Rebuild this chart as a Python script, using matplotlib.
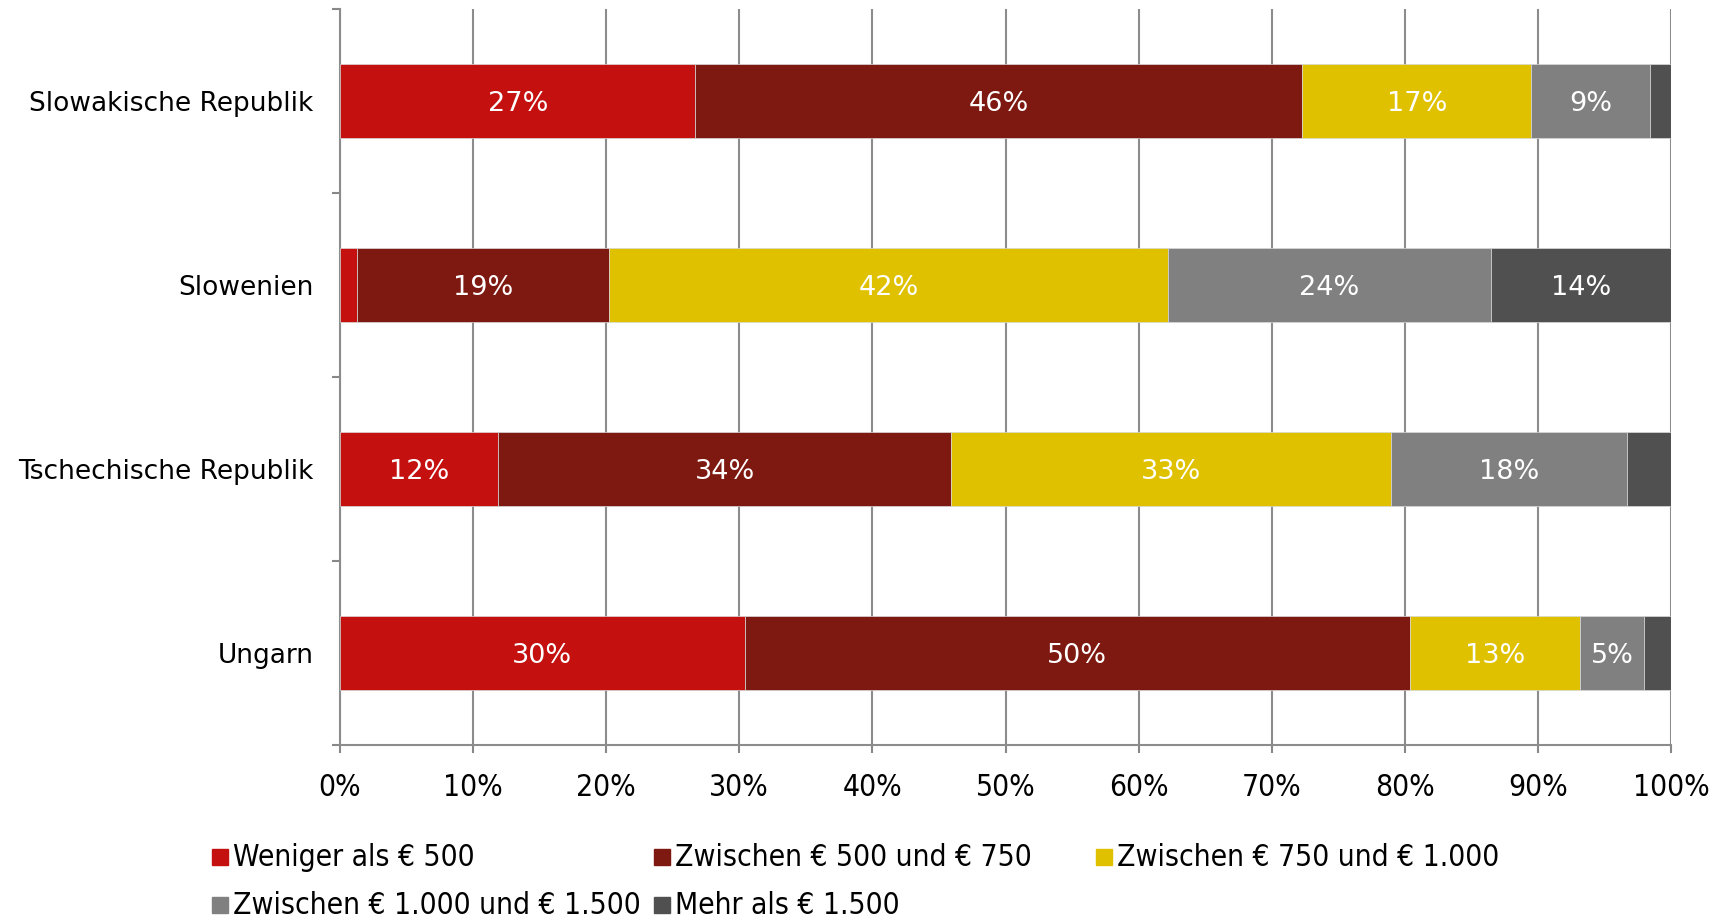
import matplotlib.pyplot as plt
import matplotlib.patches as mpatches
import numpy as np

# data, bottom to top
countries = ['Ungarn', 'Tschechische Republik', 'Slowenien', 'Slowakische Republik']
series = ['Weniger als € 500', 'Zwischen € 500 und € 750', 'Zwischen € 750 und € 1.000',
          'Zwischen € 1.000 und € 1.500', 'Mehr als € 1.500']
values = {
    'Weniger als € 500':            [30.4, 11.9, 1.3, 26.7],
    'Zwischen € 500 und € 750':     [50.0, 34.0, 18.9, 45.6],
    'Zwischen € 750 und € 1.000':   [12.8, 33.1, 42.0, 17.2],
    'Zwischen € 1.000 und € 1.500': [4.8, 17.7, 24.3, 8.9],
    'Mehr als € 1.500':             [2.0, 3.3, 13.5, 1.6],
}
colors = ['#C51010', '#7E1912', '#E0C100', '#808080', '#505050']
ticks = [0, 10, 20, 30, 40, 50, 60, 70, 80, 90, 100]

fig = plt.figure(figsize=(17.27, 9.18), dpi=100)
ax = fig.add_axes([340 / 1727, 1 - 745 / 918, (1671 - 340) / 1727, (745 - 9) / 918])

y = np.arange(len(countries))
left = np.zeros(len(countries))
for s, c in zip(series, colors):
    v = np.array(values[s])
    ax.barh(y, v, left=left, height=0.4, color=c, edgecolor='#d8d8d8', linewidth=0.5, zorder=3)
    for yi, (l, w) in enumerate(zip(left, v)):
        if w >= 4:
            ax.text(l + w / 2, yi, f'{round(w):.0f}%', ha='center', va='center_baseline',
                    color='white', fontsize=19.5, family='DejaVu Sans', zorder=4)
    left += v

ax.set_xlim(0, 100)
ax.set_ylim(-0.5, len(countries) - 0.5)

ax.set_xticks(ticks)
ax.set_xticklabels([f'{t}%' for t in ticks], family='DejaVu Sans', stretch='condensed', fontsize=21.5)
ax.set_yticks(np.arange(-0.5, len(countries), 1.0))
ax.set_yticklabels([])
ax.set_yticks(y, minor=True)
ax.set_yticklabels(countries, minor=True, fontsize=19, family='DejaVu Sans')
ax.tick_params(axis='y', which='minor', length=0, pad=19)
ax.tick_params(axis='y', which='major', length=6, width=1.5, color='#888888')
ax.tick_params(axis='x', length=6, width=1.5, color='#888888', pad=14)

ax.grid(axis='x', color='#8c8c8c', linewidth=1.5, zorder=0)
ax.set_axisbelow(True)
for side in ['top', 'right']:
    ax.spines[side].set_visible(False)
for side in ['left', 'bottom']:
    ax.spines[side].set_color('#8c8c8c')
    ax.spines[side].set_linewidth(1.5)

# legend, row-major like the original
col_w = 442
for i, (s, c) in enumerate(zip(series, colors)):
    col, row = i % 3, i // 3
    x0 = 212 + col * col_w
    yc = 857 + row * 48
    fig.patches.append(mpatches.Rectangle((x0 / 1727, 1 - (yc + 8) / 918), 16 / 1727, 16 / 918,
                                          transform=fig.transFigure, color=c))
    fig.text((x0 + 21) / 1727, 1 - yc / 918, s, ha='left', va='center',
             fontsize=21.5, family='DejaVu Sans', stretch='condensed')

fig.savefig('out.png', dpi=100)
